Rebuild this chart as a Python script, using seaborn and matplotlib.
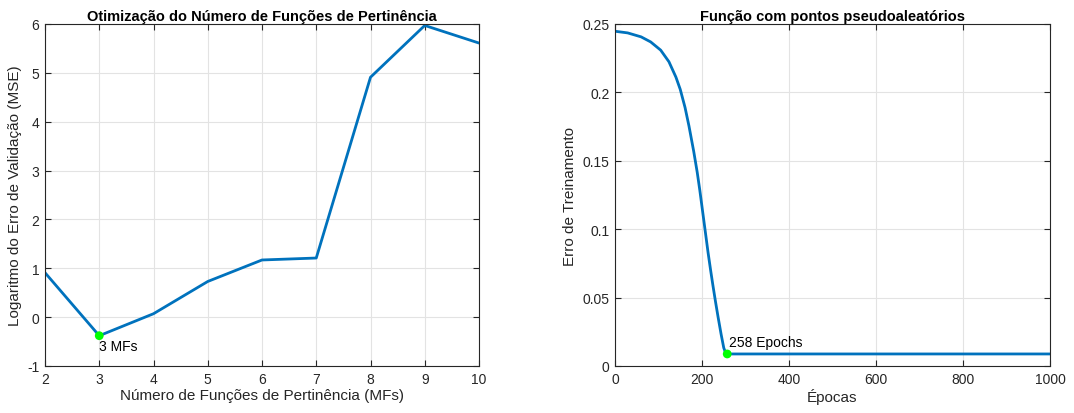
import matplotlib
matplotlib.use("Agg")
import matplotlib.pyplot as plt
import seaborn as sns
import pandas as pd
from matplotlib.ticker import FormatStrFormatter

# ---- data ----
n_mfs = [2, 3, 4, 5, 6, 7, 8, 9, 10]
log_val_err = [0.91, -0.38, 0.07, 0.73, 1.17, 1.21, 4.91, 5.97, 5.61]
best_mf = 3
best_mf_err = -0.38

epochs = [0, 29, 60, 82, 105, 124, 140, 150, 161, 170, 181, 189, 195, 204,
          209, 214, 220, 225, 231, 237, 244, 250, 254, 258, 1000]
train_err = [0.2447, 0.2435, 0.2406, 0.2369, 0.2309, 0.2224, 0.2112, 0.2022,
             0.1890, 0.1755, 0.1568, 0.1416, 0.1284, 0.1068, 0.0948, 0.0828,
             0.0696, 0.0591, 0.0471, 0.0357, 0.0231, 0.0133, 0.0098, 0.0088,
             0.0088]
best_epoch = 258
best_epoch_err = 0.0088

left_title = "Otimização do Número de Funções de Pertinência"
left_xlabel = "Número de Funções de Pertinência (MFs)"
left_ylabel = "Logaritmo do Erro de Validação (MSE)"
right_title = "Função com pontos pseudoaleatórios"
right_xlabel = "Épocas"
right_ylabel = "Erro de Treinamento"

sns.set_theme(style="whitegrid")
plt.rcParams["font.family"] = ["Liberation Sans", "DejaVu Sans"]
plt.rcParams["axes.unicode_minus"] = False

TXT = "#262626"
LINE = "#0072BD"
GREEN = "#00FF00"

fig = plt.figure(figsize=(10.74, 4.14), dpi=100)
ax1 = fig.add_axes([45 / 1074, 47 / 414, 434 / 1074, 342 / 414])
ax2 = fig.add_axes([615 / 1074, 47 / 414, 435 / 1074, 342 / 414])

df1 = pd.DataFrame({"mf": n_mfs, "err": log_val_err})
df2 = pd.DataFrame({"ep": epochs, "err": train_err})

sns.lineplot(data=df1, x="mf", y="err", ax=ax1, color=LINE, linewidth=2.0)
sns.scatterplot(x=[best_mf], y=[best_mf_err], ax=ax1, color=GREEN, s=40,
                edgecolor="none", zorder=5)
ax1.text(best_mf, best_mf_err - 0.07, "3 MFs", ha="left", va="top",
         fontsize=10, color="black")

sns.lineplot(data=df2, x="ep", y="err", ax=ax2, color=LINE, linewidth=2.0)
sns.scatterplot(x=[best_epoch], y=[best_epoch_err], ax=ax2, color=GREEN, s=40,
                edgecolor="none", zorder=5)
ax2.text(best_epoch + 5, 0.0148, "258 Epochs", ha="left", va="baseline",
         fontsize=10, color="black")

ax1.set_xlim(2, 10)
ax1.set_ylim(-1, 6)
ax1.set_xticks(range(2, 11))
ax1.set_yticks(range(-1, 7))
ax2.set_xlim(0, 1000)
ax2.set_ylim(0, 0.25)
ax2.set_xticks(range(0, 1001, 200))
ax2.set_yticks([0, 0.05, 0.1, 0.15, 0.2, 0.25])
ax2.yaxis.set_major_formatter(FormatStrFormatter("%g"))

for ax, t, xl, yl in [(ax1, left_title, left_xlabel, left_ylabel),
                      (ax2, right_title, right_xlabel, right_ylabel)]:
    ax.set_facecolor("white")
    ax.set_title(t, fontsize=10.5, fontweight="bold", color="black", pad=3)
    ax.set_xlabel(xl, fontsize=11, color=TXT, labelpad=2)
    ax.set_ylabel(yl, fontsize=11, color=TXT, labelpad=4)
    ax.grid(True, color="#e3e3e3", linewidth=0.8)
    ax.tick_params(direction="in", length=4, width=0.8, colors=TXT,
                   labelsize=10, top=True, right=True, bottom=True, left=True,
                   pad=4)
    for s in ax.spines.values():
        s.set_visible(True)
        s.set_color(TXT)
        s.set_linewidth(0.8)

fig.savefig("out.png", dpi=100)
